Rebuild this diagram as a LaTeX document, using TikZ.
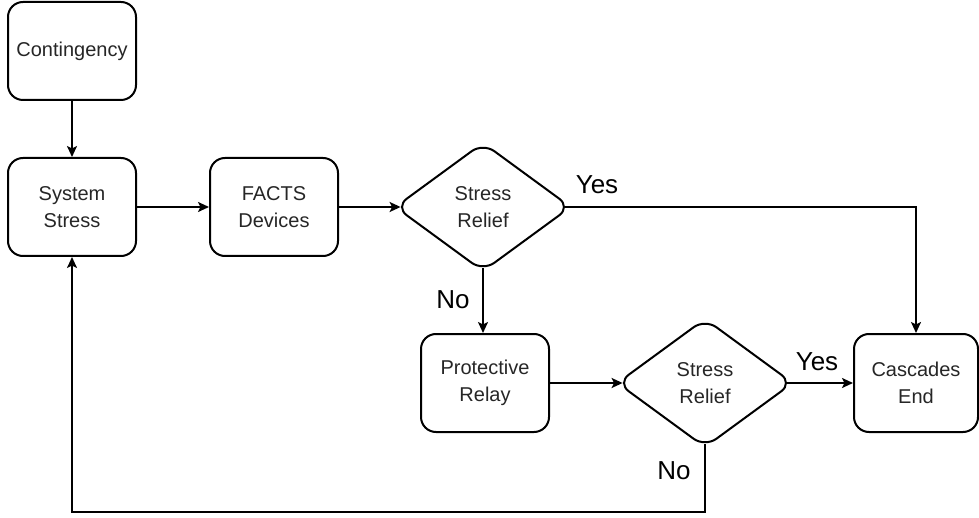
\documentclass[tikz,border=0pt]{standalone}
\usepackage{fontspec}
\setmainfont{Liberation Sans}
\usetikzlibrary{shapes.geometric,arrows.meta}
\definecolor{txt}{HTML}{262626}
\tikzset{
  box/.style={draw=black, line width=2pt, rounded corners=15pt, minimum width=128pt,
    minimum height=98pt, align=center, text=txt, font=\fontsize{20}{27}\selectfont, inner sep=0pt},
  decide/.style={draw=black, line width=2pt, diamond, rounded corners=14pt, minimum width=176pt,
    minimum height=129pt, align=center, text=txt, font=\fontsize{20}{27}\selectfont, inner sep=0pt},
  flow/.style={line width=2pt, -{Stealth[length=11pt,width=10pt,inset=2.5pt]}},
  lbl/.style={text=black, font=\fontsize{26}{30}\selectfont, inner sep=0pt}
}
\begin{document}
\begin{tikzpicture}[x=1pt,y=-1pt]
  \useasboundingbox (0,0) rectangle (979,518);
  % process boxes and decisions
  \node[box] (cont) at (72,51) {Contingency};
  \node[box] (sys) at (72,207) {System\\Stress};
  \node[box] (facts) at (274,207) {FACTS\\Devices};
  \node[decide] (d1) at (483,207) {Stress\\Relief};
  \node[box] (relay) at (485,383) {Protective\\Relay};
  \node[decide] (d2) at (705,383) {Stress\\Relief};
  \node[box, minimum width=124pt] (end) at (916,383) {Cascades\\End};
  % tips of the rounded diamonds
  \coordinate (d1w) at ([xshift=6.6pt]d1.west);
  \coordinate (d1e) at ([xshift=-6.6pt]d1.east);
  \coordinate (d1s) at ([yshift=4.5pt]d1.south);
  \coordinate (d2w) at ([xshift=6.6pt]d2.west);
  \coordinate (d2e) at ([xshift=-6.6pt]d2.east);
  \coordinate (d2s) at ([yshift=4.5pt]d2.south);
  % connectors
  \draw[flow] (cont) -- (sys);
  \draw[flow] (sys) -- (facts);
  \draw[flow] (facts.east) -- (d1w);
  \draw[flow] (d1e) -| (end.north);
  \draw[flow] (d1s) -- (d1s |- relay.north);
  \draw[flow] (relay.east) -- (d2w);
  \draw[flow] (d2e) -- (end.west);
  \coordinate (loopR) at (705,512);
  \draw[flow] (d2s) -- (loopR) -| (sys.south);
  % branch labels
  \node[lbl] (y1) at (597,185) {Yes};
  \node[lbl] (y2) at (817,362) {Yes};
  \node[lbl] (n1) at (453,300) {No};
  \node[lbl] (n2) at (674,471) {No};
\end{tikzpicture}
\end{document}
